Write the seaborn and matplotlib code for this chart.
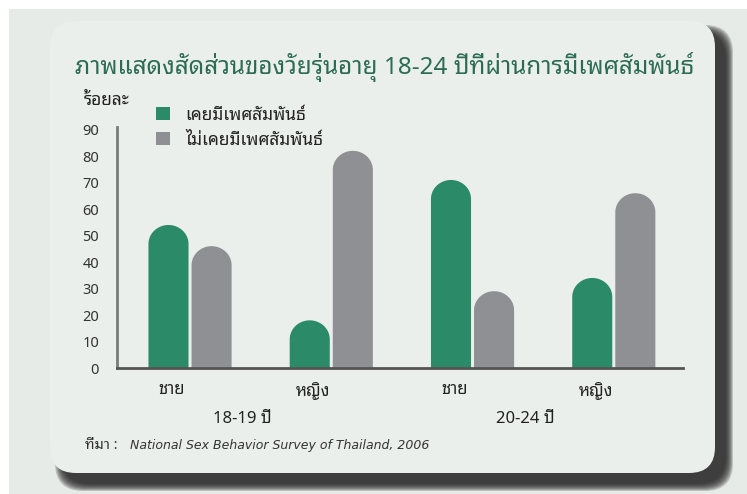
import numpy as np
import pandas as pd
import matplotlib
matplotlib.use("Agg")
import matplotlib.pyplot as plt
from matplotlib.patches import FancyBboxPatch, Patch, Polygon
from matplotlib.transforms import ScaledTranslation, blended_transform_factory
import seaborn as sns

# data (percent)
age_groups = ["18-19 ปี", "18-19 ปี", "20-24 ปี", "20-24 ปี"]
sexes = ["ชาย", "หญิง", "ชาย", "หญิง"]
had_sex = [54, 18, 71, 34]
never_had = [46, 82, 29, 66]
series_names = ["เคยมีเพศสัมพันธ์", "ไม่เคยมีเพศสัมพันธ์"]
y_ticks = [0, 10, 20, 30, 40, 50, 60, 70, 80, 90]

GREEN = "#2b8a68"
GREY = "#8f9094"
TITLE_C = "#2b6c52"

sns.set_style("white")
THAI = "Noto Sans Thai Looped"
plt.rcParams["font.family"] = [THAI, "DejaVu Sans"]

groups = [f"{s} {a}" for s, a in zip(sexes, age_groups)]
df = pd.DataFrame({
    "group": groups * 2,
    "status": [series_names[0]] * 4 + [series_names[1]] * 4,
    "pct": had_sex + never_had,
})

fig = plt.figure(figsize=(7.47, 4.94), dpi=100)
fig.patch.set_facecolor("white")

# background card drawn in pixel coordinates
bg = fig.add_axes([0, 0, 1, 1], zorder=-10)
bg.set_xlim(0, 747)
bg.set_ylim(494, 0)
bg.axis("off")
bg.add_patch(plt.Rectangle((9, 9), 740, 490, color="#e7ebe8", lw=0))
for k in range(8):
    grow = 7 - k
    bg.add_patch(FancyBboxPatch((62 - grow, 32 - grow), 664 + 2 * grow, 452 + 2 * grow,
                                boxstyle="round,pad=0,rounding_size=28",
                                fc="#262626", ec="none", alpha=0.22))
bg.add_patch(FancyBboxPatch((50, 21), 665, 452, boxstyle="round,pad=0,rounding_size=26",
                            fc="#ebefec", ec="none"))

ax = fig.add_axes([117 / 747, 126 / 494, 566 / 747, 241 / 494])
ax.patch.set_alpha(0)
sns.barplot(data=df, x="group", y="pct", hue="status", order=groups,
            hue_order=series_names, palette=[GREEN, GREY],
            width=0.61, gap=0.07, saturation=1, legend=False, ax=ax)
ax.set_xlim(-0.517, 3.49)
ax.set_ylim(0, 91)

# turn the flat bars into bars with dome-shaped tops
fig.canvas.draw()
p0 = ax.transData.transform((0, 0))
p1 = ax.transData.transform((1, 1))
aspect = (p1[0] - p0[0]) / (p1[1] - p0[1])
t = np.linspace(0, np.pi, 60)
for bar in list(ax.patches):
    x, w, h = bar.get_x(), bar.get_width(), bar.get_height()
    r = w / 2
    ry = r * aspect * 0.95
    arc = np.column_stack([x + r + r * np.cos(t), h - ry + ry * np.sin(t)])
    pts = np.vstack([[x + w, 0], arc, [x, 0]])
    ax.add_patch(Polygon(pts, closed=True, fc=bar.get_facecolor(), ec="none"))
    bar.remove()

ax.set_yticks(y_ticks)
ax.tick_params(axis="y", length=0, pad=13, labelsize=10.5, labelcolor="#333333")
ax.tick_params(axis="x", length=0, pad=10, labelsize=12, labelcolor="#222222")
ax.set_xticks(range(4))
ax.set_xticklabels(sexes)
shift = ScaledTranslation(-18 / 100, 0, fig.dpi_scale_trans)
for lab in ax.get_xticklabels():
    lab.set_transform(lab.get_transform() + shift)
ax.set_xlabel("")
ax.set_ylabel("")
for side in ["top", "right"]:
    ax.spines[side].set_visible(False)
ax.spines["left"].set_color("#7a7a7a")
ax.spines["left"].set_linewidth(2)
ax.spines["bottom"].set_color("#555555")
ax.spines["bottom"].set_linewidth(2)

# age group labels below the sex labels
trans = blended_transform_factory(ax.transData, ax.transAxes) + shift
for i in (0, 2):
    ax.text(i + 0.5, -0.21, age_groups[i], transform=trans, ha="center", va="center",
            fontsize=12, color="#222222")

fig.text(75 / 747, 1 - 67 / 494, "ภาพแสดงสัดส่วนของวัยรุ่นอายุ 18-24 ปีที่ผ่านการมีเพศสัมพันธ์",
         fontsize=17.5, fontweight="bold", color=TITLE_C, va="center")
fig.text(84 / 747, 1 - 100 / 494, "ร้อยละ", fontsize=12.5, color="#222222", va="center")
fig.text(85 / 747, 1 - 445 / 494, "ที่มา : ", fontsize=10.5, color="#333333", va="center",
         style="italic")
fig.text(130 / 747, 1 - 445 / 494, "National Sex Behavior Survey of Thailand, 2006",
         fontsize=9, color="#333333", va="center", style="italic", family="DejaVu Sans")

handles = [Patch(fc=GREEN, ec="none"), Patch(fc=GREY, ec="none")]
fig.legend(handles, series_names, loc="upper left", bbox_to_anchor=(147 / 747, 1 - 97 / 494),
           frameon=False, fontsize=12.5, handlelength=0.8, handleheight=0.8,
           handletextpad=0.9, labelspacing=0.4, borderpad=0, labelcolor="#222222")

fig.savefig("out.png", dpi=100)
